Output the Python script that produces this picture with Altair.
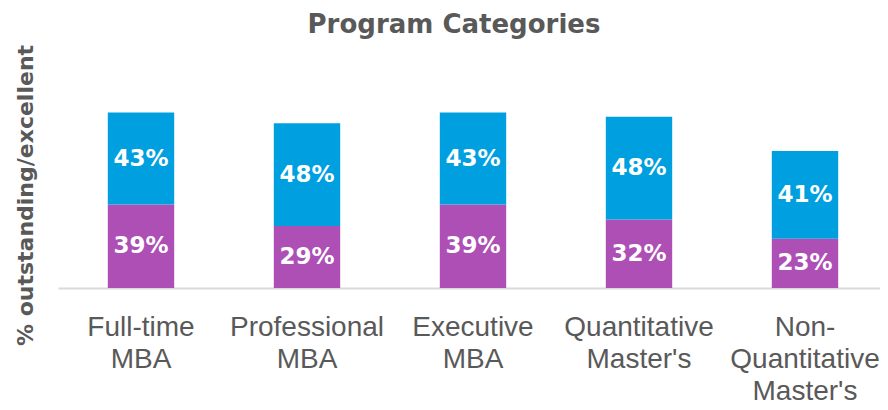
import altair as alt
import pandas as pd

title_text = ["Program Categories"]
categories = ["Full-time|MBA", "Professional|MBA", "Executive|MBA",
              "Quantitative|Master's", "Non-|Quantitative|Master's"]
bottom_vals = [39, 29, 39, 32, 23]
top_vals = [43, 48, 43, 48, 41]

rows = []
for i, c in enumerate(categories):
    b, t = bottom_vals[i], top_vals[i]
    rows.append({"cat": c, "series": "bottom", "order": 0, "value": b,
                 "y0": 0, "y1": b, "mid": b / 2, "label": f"{b}%"})
    rows.append({"cat": c, "series": "top", "order": 1, "value": t,
                 "y0": b, "y1": b + t, "mid": b + t / 2, "label": f"{t}%"})
df = pd.DataFrame(rows)

FONT = "DejaVu Sans"
LFONT = "Liberation Sans"
GREY = "#595959"

xscale = alt.Scale(paddingInner=0.6, paddingOuter=0.3, range=[0, 830])
x = alt.X("cat:N", sort=categories, title=None, scale=xscale,
          axis=alt.Axis(labelExpr="split(datum.label, '|')", labelAngle=0,
                        labelFont=LFONT, labelFontSize=28, labelColor=GREY,
                        labelLineHeight=32, labelPadding=25, ticks=False,
                        domainColor="#d9d9d9", domainWidth=2, labelBaseline="top"))
yscale = alt.Scale(domain=[0, 100])

bars = alt.Chart(df).mark_bar().encode(
    x=x,
    y=alt.Y("y0:Q", scale=yscale,
            axis=alt.Axis(labels=False, ticks=False, domain=False, grid=False,
                          title="% outstanding/excellent", titleFont=FONT,
                          titleFontSize=22, titleFontWeight="bold", titleColor=GREY,
                          titleAngle=270, titleAlign="center", titleBaseline="middle",
                          titleX=-33, titleY=121)),
    y2="y1:Q",
    color=alt.Color("series:N", legend=None,
                    scale=alt.Scale(domain=["bottom", "top"],
                                    range=["#AD4FB5", "#00A0E0"])),
)

text = alt.Chart(df).mark_text(font=FONT, fontSize=23, fontWeight="bold",
                               color="white", baseline="middle").encode(
    x=alt.X("cat:N", sort=categories, scale=xscale),
    y=alt.Y("mid:Q", scale=yscale),
    text="label:N",
)

title = alt.Chart(pd.DataFrame({"t": title_text})).mark_text(
    font=FONT, fontSize=26, fontWeight="bold", color=GREY,
    baseline="alphabetic", align="center").encode(
    x=alt.value(396), y=alt.value(-41), text="t:N")

chart = alt.layer(bars, text, title).properties(
    width=822, height=214,
    autosize=alt.AutoSizeParams(type="none"),
    padding={"left": 50, "top": 66, "right": 0, "bottom": 122},
).configure_view(stroke=None)

chart.save("out.html", embed_options={"renderer": "svg", "actions": False})
